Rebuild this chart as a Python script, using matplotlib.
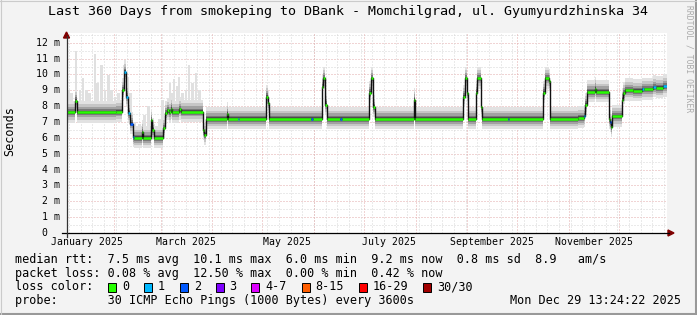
import numpy as np
import matplotlib.pyplot as plt
from matplotlib.patches import Rectangle
from matplotlib.lines import Line2D

# median rtt (ms) as steps: start day of each step (days since the first sample), value, loss bucket
day = [0.0, 5.0, 6.0, 29.4, 33.0, 34.6, 35.6, 36.8, 38.2, 39.6, 40.6, 45.0, 46.0, 50.4, 51.4,
       52.4, 58.0, 59.2, 60.2, 61.6, 62.4, 63.4, 67.6, 68.6, 81.6, 82.4, 83.4, 96.0, 96.8,
       102.6, 103.4, 119.6, 120.6, 121.6, 146.8, 147.6, 153.0, 154.0, 155.2, 156.0, 164.2, 165.0,
       181.2, 182.4, 184.0, 184.8, 208.4, 209.2, 237.6, 239.0, 240.2, 241.0, 245.6, 246.4,
       248.4, 249.2, 264.6, 265.4, 285.8, 286.8, 289.2, 290.2, 306.6, 310.2, 311.2, 312.0,
       316.8, 317.6, 325.2, 326.0, 326.6, 327.4, 333.0, 334.0, 335.0, 340.0, 345.0, 346.5,
       352.0, 353.5, 358.0]
rtt = [7.6, 8.35, 7.6, 7.65, 9.0, 10.15, 8.6, 7.57, 6.9, 6.05, 6.0, 6.35, 6.0, 7.1, 6.5,
       6.0, 6.6, 7.55, 7.75, 7.6, 7.85, 7.6, 7.8, 7.65, 6.5, 6.2, 7.2, 7.5, 7.2,
       7.2, 7.2, 8.6, 8.2, 7.2, 7.2, 7.2, 9.2, 9.75, 8.1, 7.2, 7.2, 7.2,
       8.85, 9.75, 7.95, 7.2, 8.4, 7.2, 8.6, 9.75, 8.8, 7.2, 8.85, 9.75,
       7.95, 7.2, 7.2, 7.2, 8.85, 9.75, 9.6, 7.2, 7.25, 7.35, 8.1, 8.9,
       9.1, 8.9, 7.2, 7.0, 6.7, 7.35, 8.4, 8.8, 9.0, 8.95, 9.05, 9.05,
       9.2, 9.15, 9.25]
loss = [0, 0, 0, 0, 0, 1, 1, 1, 2, 1, 0, 0, 0, 0, 0,
        0, 0, 0, 0, 0, 0, 0, 0, 0, 0, 0, 0, 0, 0,
        1, 0, 0, 0, 0, 2, 0, 0, 0, 0, 0, 2, 0,
        0, 0, 0, 0, 0, 0, 0, 0, 0, 0, 0, 0,
        0, 0, 2, 0, 0, 0, 0, 0, 0, 1, 0, 0,
        0, 0, 0, 2, 0, 0, 0, 0, 0, 0, 1, 0,
        1, 0, 1]

# tall upper smoke in the first months
spike_day = [1.0, 3.0, 5.6, 8.0, 9.8, 12.0, 13.8, 17.0, 18.6, 21.0, 23.0, 25.0, 27.0, 29.0,
             31.0, 34.6, 36.6, 38.2, 41.0, 43.6, 46.6, 49.0, 52.2, 55.6, 57.6, 59.6, 62.0,
             63.6, 64.6, 66.6, 67.6, 69.6, 71.6, 73.6, 75.6, 77.6, 79.6, 81.0]
spike_top = [9.0, 8.85, 11.5, 9.0, 9.75, 9.0, 8.8, 11.3, 9.45, 10.6, 9.0, 9.95, 9.0, 8.6,
             8.8, 10.6, 9.85, 8.8, 7.0, 6.9, 7.45, 8.0, 6.9, 7.2, 8.4, 8.2, 9.45,
             8.8, 9.7, 9.3, 9.85, 8.8, 9.0, 10.6, 9.45, 10.1, 9.0, 8.2]

loss_labels = ['0', '1', '2', '3', '4-7', '8-15', '16-29', '30/30']
loss_colors = ['#26ff00', '#00b8ff', '#0059ff', '#7e00ff', '#dd00ff', '#ff5e00', '#ff0000', '#a10000']

title = 'Last 360 Days from smokeping to DBank - Momchilgrad, ul. Gyumyurdzhinska 34'
end_time = np.datetime64('2025-12-29T13:24:22')
start_time = end_time - np.timedelta64(360, 'D')

W, H = 697, 315
mono = 'DejaVu Sans Mono'
fig = plt.figure(figsize=(W / 100, H / 100), dpi=100, facecolor='#f3f3f3')

def fx(x):
    return x / W

def fy(y):
    return 1 - y / H

ax = fig.add_axes([fx(66.5), fy(233), 600 / W, 199.8 / H])
ax.set_xlim(0, 360)
ax.set_ylim(0, 12.6)
for s in ax.spines.values():
    s.set_visible(False)
ax.set_xticks([])
ax.set_yticks([])

def days_of(t):
    return (t.astype('datetime64[s]') - start_time) / np.timedelta64(1, 'D')

# grid
weeks = days_of(np.arange(np.datetime64('2025-01-05'), np.datetime64('2025-12-30'), np.timedelta64(7, 'D')))
months = days_of(np.arange(np.datetime64('2025-02'), np.datetime64('2026-01'), np.timedelta64(1, 'M')))
plt.rcParams['lines.scale_dashes'] = False
gdash = (0, (0.72, 1.44))
for v in np.arange(0.5, 12.6, 0.5):
    major = abs(v - round(v)) < 1e-6
    ax.axhline(v, color='#e3aaaa' if major else '#d6d6d6', lw=0.72, ls=gdash, zorder=1)
for d in weeks:
    ax.axvline(d, color='#d6d6d6', lw=0.72, ls=gdash, zorder=1)
for d in months:
    ax.axvline(d, color='#e3aaaa', lw=0.72, ls=gdash, zorder=1)

# smoke
xs = np.array(day + [360.0])
ys = np.array(rtt + [rtt[-1]])
seg = np.searchsorted(day, spike_day, side='right') - 1
base = np.array(rtt)[seg]
ax.bar(spike_day, np.array(spike_top) - base, bottom=base, width=1.6, color='#e0e0e0', zorder=2)
layers = [('#e2e2e2', 0.65, 0.75), ('#c6c6c6', 0.45, 0.52), ('#a2a2a2', 0.3, 0.34),
          ('#787878', 0.18, 0.2), ('#4c4c4c', 0.08, 0.1)]
for c, lo, hi in layers:
    ax.fill_between(xs, ys - lo, ys + hi, step='post', color=c, lw=0, zorder=3)

# median
ax.step(xs, ys, where='post', color='#111111', lw=1.0, zorder=4)
for i in range(len(day)):
    ax.hlines(rtt[i], xs[i], xs[i + 1], color=loss_colors[loss[i]], lw=1.8, zorder=5)

# axes with arrows
fig.add_artist(Line2D([fx(62), fx(669)], [fy(233), fy(233)], color='black', lw=0.9))
fig.add_artist(Line2D([fx(66.5), fx(66.5)], [fy(237), fy(36)], color='#333333', lw=0.9))
fig.add_artist(plt.Polygon([[fx(668), fy(230)], [fx(668), fy(236)], [fx(674), fy(233)]], color='#7f0000'))
fig.add_artist(plt.Polygon([[fx(63.5), fy(38)], [fx(69.5), fy(38)], [fx(66.5), fy(32)]], color='#7f0000'))

# tick labels
for v in range(0, 13):
    lab = '%2d m' % v if v else ' 0'
    fig.text(fx(36), fy(233 - v * 15.86), lab, family=mono, fontsize=7.1, va='center', ha='left')
for m in np.arange(np.datetime64('2025-01'), np.datetime64('2026-01'), np.timedelta64(2, 'M')):
    d = days_of(m) + 15
    name = m.astype(object).strftime('%B %Y')
    fig.text(fx(66.5 + d * 600 / 360), fy(242), name, family=mono, fontsize=7.1, ha='center', va='center')

fig.text(fx(10), fy(131), 'Seconds', family=mono, fontsize=8.5, rotation=90, ha='center', va='center')
fig.text(0.5, fy(12), title, family=mono, fontsize=9.6, ha='center', va='center')
fig.text(fx(689), fy(5), 'RRDTOOL / TOBI OETIKER', family=mono, fontsize=5.8, rotation=270,
         ha='center', va='top', color='#aaaaaa')

# legend
cw = 7.15
x0 = 15
fig.text(fx(x0), fy(260), 'median rtt:  7.5 ms avg  10.1 ms max  6.0 ms min  9.2 ms now  0.8 ms sd  8.9   am/s',
         family=mono, fontsize=8.5, va='center')
fig.text(fx(x0), fy(273.5), 'packet loss: 0.08 % avg  12.50 % max  0.00 % min  0.42 % now',
         family=mono, fontsize=8.5, va='center')
fig.text(fx(x0), fy(287), 'loss color:', family=mono, fontsize=8.5, va='center')
col = 13
for lab, c in zip(loss_labels, loss_colors):
    bx = x0 + col * cw
    fig.add_artist(Rectangle((fx(bx + 0.5), fy(291.5)), 8 / W, 9 / H, transform=fig.transFigure,
                             facecolor=c, edgecolor='black', lw=0.7))
    fig.text(fx(bx + 2 * cw), fy(287), lab, family=mono, fontsize=8.5, va='center')
    col += len(lab) + 4
fig.text(fx(x0), fy(300.5), 'probe:       30 ICMP Echo Pings (1000 Bytes) every 3600s',
         family=mono, fontsize=8.5, va='center')
fig.text(fx(681), fy(300.5), 'Mon Dec 29 13:24:22 2025', family=mono, fontsize=8.5, va='center', ha='right')

# frame
fig.add_artist(Line2D([fx(695.5), fx(695.5)], [0, 1], color='#999999', lw=1.5))
fig.add_artist(Line2D([0, 1], [fy(313.5), fy(313.5)], color='#999999', lw=1.5))
fig.add_artist(Line2D([fx(0.5), fx(0.5)], [0, 1], color='#cbcbcb', lw=0.8))
fig.add_artist(Line2D([0, 1], [fy(0.5), fy(0.5)], color='#cbcbcb', lw=0.8))

fig.savefig('out.png', dpi=100, facecolor=fig.get_facecolor())
